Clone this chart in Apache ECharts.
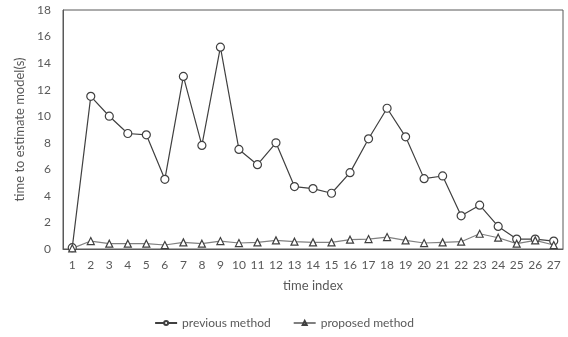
<!DOCTYPE html>
<html><head><meta charset="utf-8">
<script src="https://cdn.jsdelivr.net/npm/echarts@6/dist/echarts.min.js"></script>
<style>html,body{margin:0;padding:0;background:#fff}#c{width:568px;height:337px}</style>
</head><body><div id="c"></div>
<script>
const categories = ['1','2','3','4','5','6','7','8','9','10','11','12','13','14','15','16','17','18','19','20','21','22','23','24','25','26','27'];
const previousMethod = [0.1,11.5,10.0,8.7,8.6,5.25,13.0,7.8,15.2,7.5,6.35,8.0,4.7,4.55,4.2,5.75,8.3,10.6,8.45,5.3,5.5,2.5,3.3,1.7,0.75,0.75,0.6];
const proposedMethod = [0.05,0.6,0.4,0.4,0.4,0.3,0.5,0.4,0.6,0.45,0.5,0.65,0.55,0.5,0.5,0.7,0.75,0.9,0.65,0.45,0.5,0.55,1.15,0.85,0.4,0.65,0.3];
const yTicks = {min:0, max:18, interval:2};
const font = 'Lato, "Open Sans", sans-serif';
const chart = echarts.init(document.getElementById('c'));
chart.setOption({
  animation:false,
  grid:{left:63,right:5,top:10,bottom:88,show:true,borderColor:'#595959',borderWidth:1,backgroundColor:'transparent'},
  xAxis:{type:'category',data:categories,boundaryGap:true,
    name:'time index',nameLocation:'middle',nameGap:30,
    nameTextStyle:{color:'#595959',fontSize:13,fontFamily:font},
    axisLine:{lineStyle:{color:'#595959'}},
    axisTick:{alignWithLabel:true,inside:true,length:4,lineStyle:{color:'#595959'}},
    axisLabel:{color:'#595959',fontSize:12,fontFamily:font,margin:10,interval:0}},
  yAxis:{type:'value',min:yTicks.min,max:yTicks.max,interval:yTicks.interval,
    name:'time to estimate model(s)',nameLocation:'middle',nameGap:32,
    nameTextStyle:{color:'#595959',fontSize:13,fontFamily:font},
    axisLine:{show:true,lineStyle:{color:'#595959'}},axisTick:{show:false},
    splitLine:{show:false},
    axisLabel:{color:'#595959',fontSize:12,fontFamily:font,margin:12}},
  legend:{bottom:3,left:'center',itemGap:22,itemWidth:22,itemHeight:5,
    textStyle:{color:'#595959',fontSize:12,fontFamily:font},
    data:['previous method','proposed method']},
  series:[
    {name:'previous method',type:'line',data:previousMethod,symbol:'circle',symbolSize:8,
     lineStyle:{color:'#404040',width:1.2},itemStyle:{color:'#fff',borderColor:'#404040',borderWidth:1.2}},
    {name:'proposed method',type:'line',data:proposedMethod,symbol:'triangle',symbolSize:7,
     lineStyle:{color:'#808080',width:1.2},itemStyle:{color:'#fff',borderColor:'#404040',borderWidth:1.2}}
  ]
});
</script></body></html>
